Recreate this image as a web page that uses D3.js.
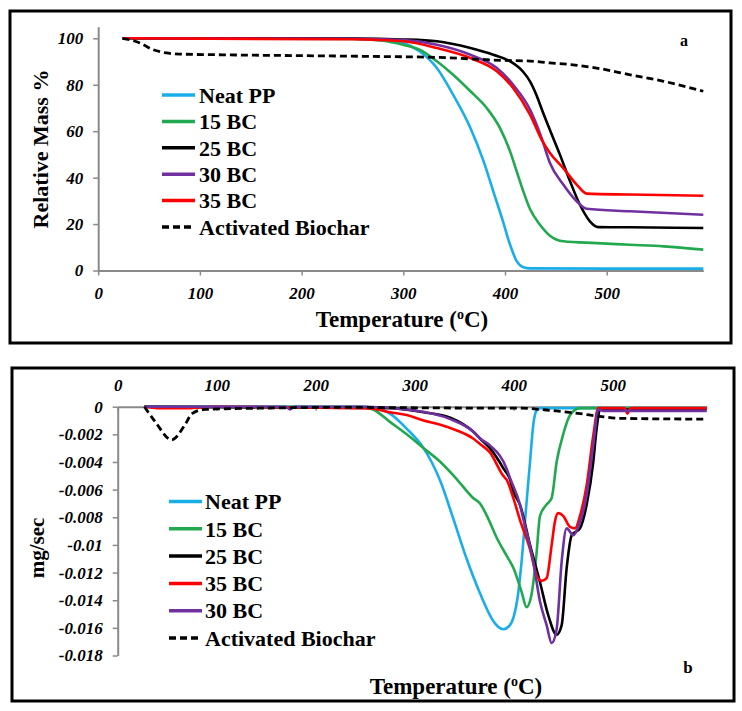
<!DOCTYPE html>
<html><head><meta charset="utf-8">
<script src="https://cdn.jsdelivr.net/npm/d3@7"></script>
<style>
body{margin:0;background:#fff}
svg{display:block}
text{font-family:"Liberation Serif","Times New Roman",serif;font-weight:bold;fill:#000}
</style>
</head><body>
<svg id="c" width="742" height="711"></svg>
<script>
// ---------- DATA ----------
// Panel a: TGA, relative mass % vs temperature (°C)
const tgaXTicks = [0, 100, 200, 300, 400, 500];
const tgaYTicks = [0, 20, 40, 60, 80, 100];
const tgaNeatPP = [[24,100],[150,100],[250,99.8],[280,99.3],[300,98],[316,94.4],[333,87.2],[349,75.7],[366,61.4],[379,47],[388.5,34.1],[398,21.2],[405,11.1],[411.5,4],[418,1.4],[425,0.9],[500,0.8],[595,0.8]];
const tga15BC = [[24,100],[250,99.7],[280,99],[300,97.2],[316,95.1],[333,90.1],[349,84.3],[366,77.2],[382,70],[395,61.4],[405,51.3],[411.5,42.7],[418,34.1],[424.6,26.5],[434.4,19.7],[444.2,15],[457.3,12.6],[490,11.8],[523,11.1],[556,10.4],[595,9]];
const tga25BC = [[24,100],[250,99.9],[300,99.5],[333,98.7],[366,95.8],[388.5,92.9],[405,90.1],[418,85.5],[424.6,81.5],[431,75.5],[437,68.5],[444.2,60.5],[454,49.9],[464,38.4],[473.7,28.3],[483.5,21.2],[491.7,18.7],[523,18.6],[595,18.3]];
const tga30BC = [[24,100],[250,99.8],[300,99.2],[333,97.2],[366,92.9],[392,87.2],[408,80],[424.6,69.3],[436,57.1],[444.2,46.3],[457.3,37],[470.5,29.8],[480.3,26.6],[523,25.5],[595,24]];
const tga35BC = [[24,100],[250,99.6],[300,98.7],[333,95.8],[366,91.5],[392,85.8],[408,78.6],[424.6,67.1],[436,56.4],[444.2,50.6],[457.3,44.1],[470.5,37],[480.3,33.1],[523,32.7],[595,32.2]];
const tgaBiochar = [[24,100],[41,98],[54,95.1],[67,93.7],[80,93.2],[123,92.9],[270,92.2],[333,91.8],[398,90.5],[425,90.2],[444,89.4],[457,89],[490,87.2],[523,84.3],[556,81.5],[595,77.2]];

// Panel b: DTG, mg/sec vs temperature (°C)
const dtgXTicks = [0, 100, 200, 300, 400, 500];
const dtgYTicks = [0, -0.002, -0.004, -0.006, -0.008, -0.01, -0.012, -0.014, -0.016, -0.018];
const dtgYTickLabels = ["0","-0.002","-0.004","-0.006","-0.008","-0.01","-0.012","-0.014","-0.016","-0.018"];
const dtgNeatPP = [[27,0],[250,0],[258,-0.0001],[275,-0.0005],[292,-0.0016],[309,-0.0030],[326,-0.0054],[339,-0.0081],[352.5,-0.0110],[366,-0.0135],[379.4,-0.0155],[384,-0.0159],[389.5,-0.0161],[395,-0.0159],[400,-0.0152],[404,-0.0138],[408,-0.0112],[412,-0.0078],[416.5,-0.0040],[420,-0.0012],[423,-0.0003],[427,-0.0001],[595,-0.0001]];
const dtg15BC = [[27,0],[245,0],[258,-0.0002],[275,-0.0011],[292,-0.0020],[309,-0.0030],[326,-0.0040],[342,-0.0052],[359,-0.0066],[366,-0.0070],[373,-0.0079],[383,-0.0095],[393,-0.0108],[400,-0.0117],[408,-0.0134],[413,-0.0145],[418,-0.0136],[423,-0.0107],[426.6,-0.0079],[433,-0.0071],[438.4,-0.0066],[443.4,-0.0040],[450,-0.0020],[457,-0.0006],[467,-0.0001],[595,-0.0001]];
const dtg25BC = [[27,0],[275,-0.0001],[309,-0.0004],[336,-0.0008],[359,-0.0018],[366,-0.0023],[376,-0.0030],[383,-0.0037],[390,-0.0045],[396,-0.0052],[400,-0.0062],[406.4,-0.0071],[416.5,-0.0100],[426.6,-0.0127],[435,-0.0151],[443.4,-0.0165],[448.5,-0.0158],[453.5,-0.0117],[458.6,-0.0093],[467,-0.0088],[473.7,-0.0071],[480.4,-0.0040],[483.8,-0.0016],[487.2,-0.0002],[595,-0.0002]];
const dtg35BC = [[27,0],[40,-0.0001],[70,-0.0001],[100,0],[250,-0.0001],[258,-0.00015],[275,-0.0004],[292,-0.0006],[309,-0.0010],[326,-0.0013],[342,-0.0017],[359,-0.0023],[366,-0.0027],[376,-0.0033],[389.5,-0.0050],[393,-0.0053],[399.6,-0.0066],[406.4,-0.0082],[416.5,-0.0103],[423.2,-0.0122],[428.3,-0.0126],[433.3,-0.0124],[438.4,-0.0100],[441.7,-0.0083],[445,-0.0077],[450,-0.0079],[457,-0.0087],[462,-0.0088],[467,-0.0079],[473.7,-0.0057],[480.4,-0.0021],[485.5,-0.0001],[512,-0.0001],[515,-0.0005],[518,-0.0001],[595,-0.0001]];
const dtg30BC = [[27,0],[170,0],[174,-0.0002],[178,0],[250,0],[292,-0.0002],[336,-0.0009],[359,-0.0018],[366,-0.0023],[376,-0.0028],[393,-0.0045],[396,-0.0051],[406.4,-0.0071],[409.7,-0.0081],[419.8,-0.0112],[426.6,-0.0141],[433.3,-0.0158],[438.4,-0.0171],[443.4,-0.0161],[448.5,-0.0112],[453.5,-0.0088],[460.2,-0.0093],[465.3,-0.0087],[473.7,-0.0064],[480.4,-0.0028],[485.5,-0.0002],[490,-0.0003],[595,-0.0003]];
const dtgBiochar = [[27,0],[38,-0.0011],[54.5,-0.0024],[68,-0.0013],[75,-0.0005],[88,-0.0002],[150,-0.0001],[224,-0.00005],[366,-0.0001],[406,-0.0001],[433,-0.00024],[467,-0.0005],[487,-0.0007],[507,-0.00084],[595,-0.0009]];

const colNeatPP = "#1aaee8", col15 = "#22a84f", col25 = "#000000", col30 = "#7030a0", col35 = "#ff0000", colBio = "#000000";

const seriesA = [
  {name:"Neat PP", data:tgaNeatPP, color:colNeatPP},
  {name:"15 BC", data:tga15BC, color:col15},
  {name:"25 BC", data:tga25BC, color:col25},
  {name:"30 BC", data:tga30BC, color:col30},
  {name:"35 BC", data:tga35BC, color:col35},
  {name:"Activated Biochar", data:tgaBiochar, color:colBio, dash:true}
];
const seriesB = [
  {name:"Neat PP", data:dtgNeatPP, color:colNeatPP},
  {name:"15 BC", data:dtg15BC, color:col15},
  {name:"25 BC", data:dtg25BC, color:col25},
  {name:"35 BC", data:dtg35BC, color:col35},
  {name:"30 BC", data:dtg30BC, color:col30},
  {name:"Activated Biochar", data:dtgBiochar, color:colBio, dash:true}
];

// ---------- DRAW ----------
const svg = d3.select("#c");
const axisCol = "#8a8a8a";

// frames
svg.append("rect").attr("x",10).attr("y",11).attr("width",721).attr("height",332)
  .attr("fill","none").attr("stroke","#000").attr("stroke-width",3);
svg.append("rect").attr("x",12).attr("y",368).attr("width",722).attr("height",333)
  .attr("fill","none").attr("stroke","#000").attr("stroke-width",3);

function styleAxis(g){
  g.selectAll(".domain").attr("stroke",axisCol).attr("stroke-width",2);
  g.selectAll(".tick line").attr("stroke",axisCol).attr("stroke-width",1.5);
  g.selectAll(".tick text").style("font-size","17px").style("font-style","italic")
    .style("font-weight","bold").attr("fill","#000");
}

// ----- panel a -----
const xA = d3.scaleLinear().domain([0,595]).range([98.2,703.3]);
const yA = d3.scaleLinear().domain([0,105]).range([270.5,26.7]);

const gxA = svg.append("g").attr("transform",`translate(0,${yA(0)})`)
  .call(d3.axisBottom(xA).tickValues(tgaXTicks).tickFormat(d3.format("d")).tickSizeInner(5).tickSizeOuter(0).tickPadding(11));
styleAxis(gxA);
const gyA = svg.append("g").attr("transform",`translate(${xA(0)},0)`)
  .call(d3.axisLeft(yA).tickValues(tgaYTicks).tickFormat(d3.format("d")).tickSizeInner(5).tickSizeOuter(0).tickPadding(10));
styleAxis(gyA);

const lineA = d3.line().x(d=>xA(d[0])).y(d=>yA(d[1])).curve(d3.curveMonotoneX);
svg.append("g").selectAll("path").data(seriesA).join("path")
  .attr("d",d=>lineA(d.data)).attr("fill","none").attr("stroke",d=>d.color)
  .attr("stroke-width",d=>d.dash?2.8:2.6).attr("stroke-dasharray",d=>d.dash?"7,4":null)
  .attr("stroke-linejoin","round");

// legend a
const legA = svg.append("g");
seriesA.forEach((s,i)=>{
  const y = 95 + i*26.4;
  legA.append("line").attr("x1",162).attr("x2",195).attr("y1",y).attr("y2",y)
    .attr("stroke",s.color).attr("stroke-width",3.5).attr("stroke-dasharray",s.dash?"7,4":null);
  legA.append("text").attr("x",199).attr("y",y).attr("dy","0.35em").style("font-size","22px").text(s.name);
});

svg.append("text").attr("transform","translate(40,149) rotate(-90)").attr("text-anchor","middle")
  .attr("dy","0.35em").style("font-size","22px").text("Relative Mass %");
const tA = svg.append("text").attr("x",402).attr("y",327).attr("text-anchor","middle").style("font-size","23px");
tA.append("tspan").text("Temperature (");
tA.append("tspan").style("font-size","14px").attr("dy",-8).text("o");
tA.append("tspan").attr("dy",8).text("C)");
svg.append("text").attr("x",684).attr("y",40).attr("dy","0.35em").attr("text-anchor","middle").style("font-size","16px").text("a");

// ----- panel b -----
const xB = d3.scaleLinear().domain([0,595]).range([117.7,706.7]);
const yB = d3.scaleLinear().domain([-0.018,0]).range([655.5,406.7]);

const gxB = svg.append("g").attr("transform",`translate(0,${yB(0)})`)
  .call(d3.axisTop(xB).tickValues(dtgXTicks).tickFormat(d3.format("d")).tickSizeInner(-4).tickSizeOuter(0).tickPadding(16));
styleAxis(gxB);
const gyB = svg.append("g").attr("transform",`translate(${xB(0)},0)`)
  .call(d3.axisLeft(yB).tickValues(dtgYTicks).tickFormat((d,i)=>dtgYTickLabels[i]).tickSizeInner(5).tickSizeOuter(0).tickPadding(10));
styleAxis(gyB);

const lineB = d3.line().x(d=>xB(d[0])).y(d=>yB(d[1])).curve(d3.curveMonotoneX);
svg.append("g").selectAll("path").data(seriesB).join("path")
  .attr("d",d=>lineB(d.data)).attr("fill","none").attr("stroke",d=>d.color)
  .attr("stroke-width",d=>d.dash?2.8:2.6).attr("stroke-dasharray",d=>d.dash?"7,4":null)
  .attr("stroke-linejoin","round");

// legend b
const legB = svg.append("g");
seriesB.forEach((s,i)=>{
  const y = 501.5 + i*27.3;
  legB.append("line").attr("x1",169).attr("x2",202).attr("y1",y).attr("y2",y)
    .attr("stroke",s.color).attr("stroke-width",3.5).attr("stroke-dasharray",s.dash?"7,4":null);
  legB.append("text").attr("x",205).attr("y",y).attr("dy","0.35em").style("font-size","22px").text(s.name);
});

svg.append("text").attr("transform","translate(37,548) rotate(-90)").attr("text-anchor","middle")
  .attr("dy","0.35em").style("font-size","21px").text("mg/sec");
const tB = svg.append("text").attr("x",456).attr("y",694).attr("text-anchor","middle").style("font-size","23px");
tB.append("tspan").text("Temperature (");
tB.append("tspan").style("font-size","14px").attr("dy",-8).text("o");
tB.append("tspan").attr("dy",8).text("C)");
svg.append("text").attr("x",688).attr("y",667).attr("dy","0.35em").attr("text-anchor","middle").style("font-size","17px").text("b");
</script>
</body></html>
